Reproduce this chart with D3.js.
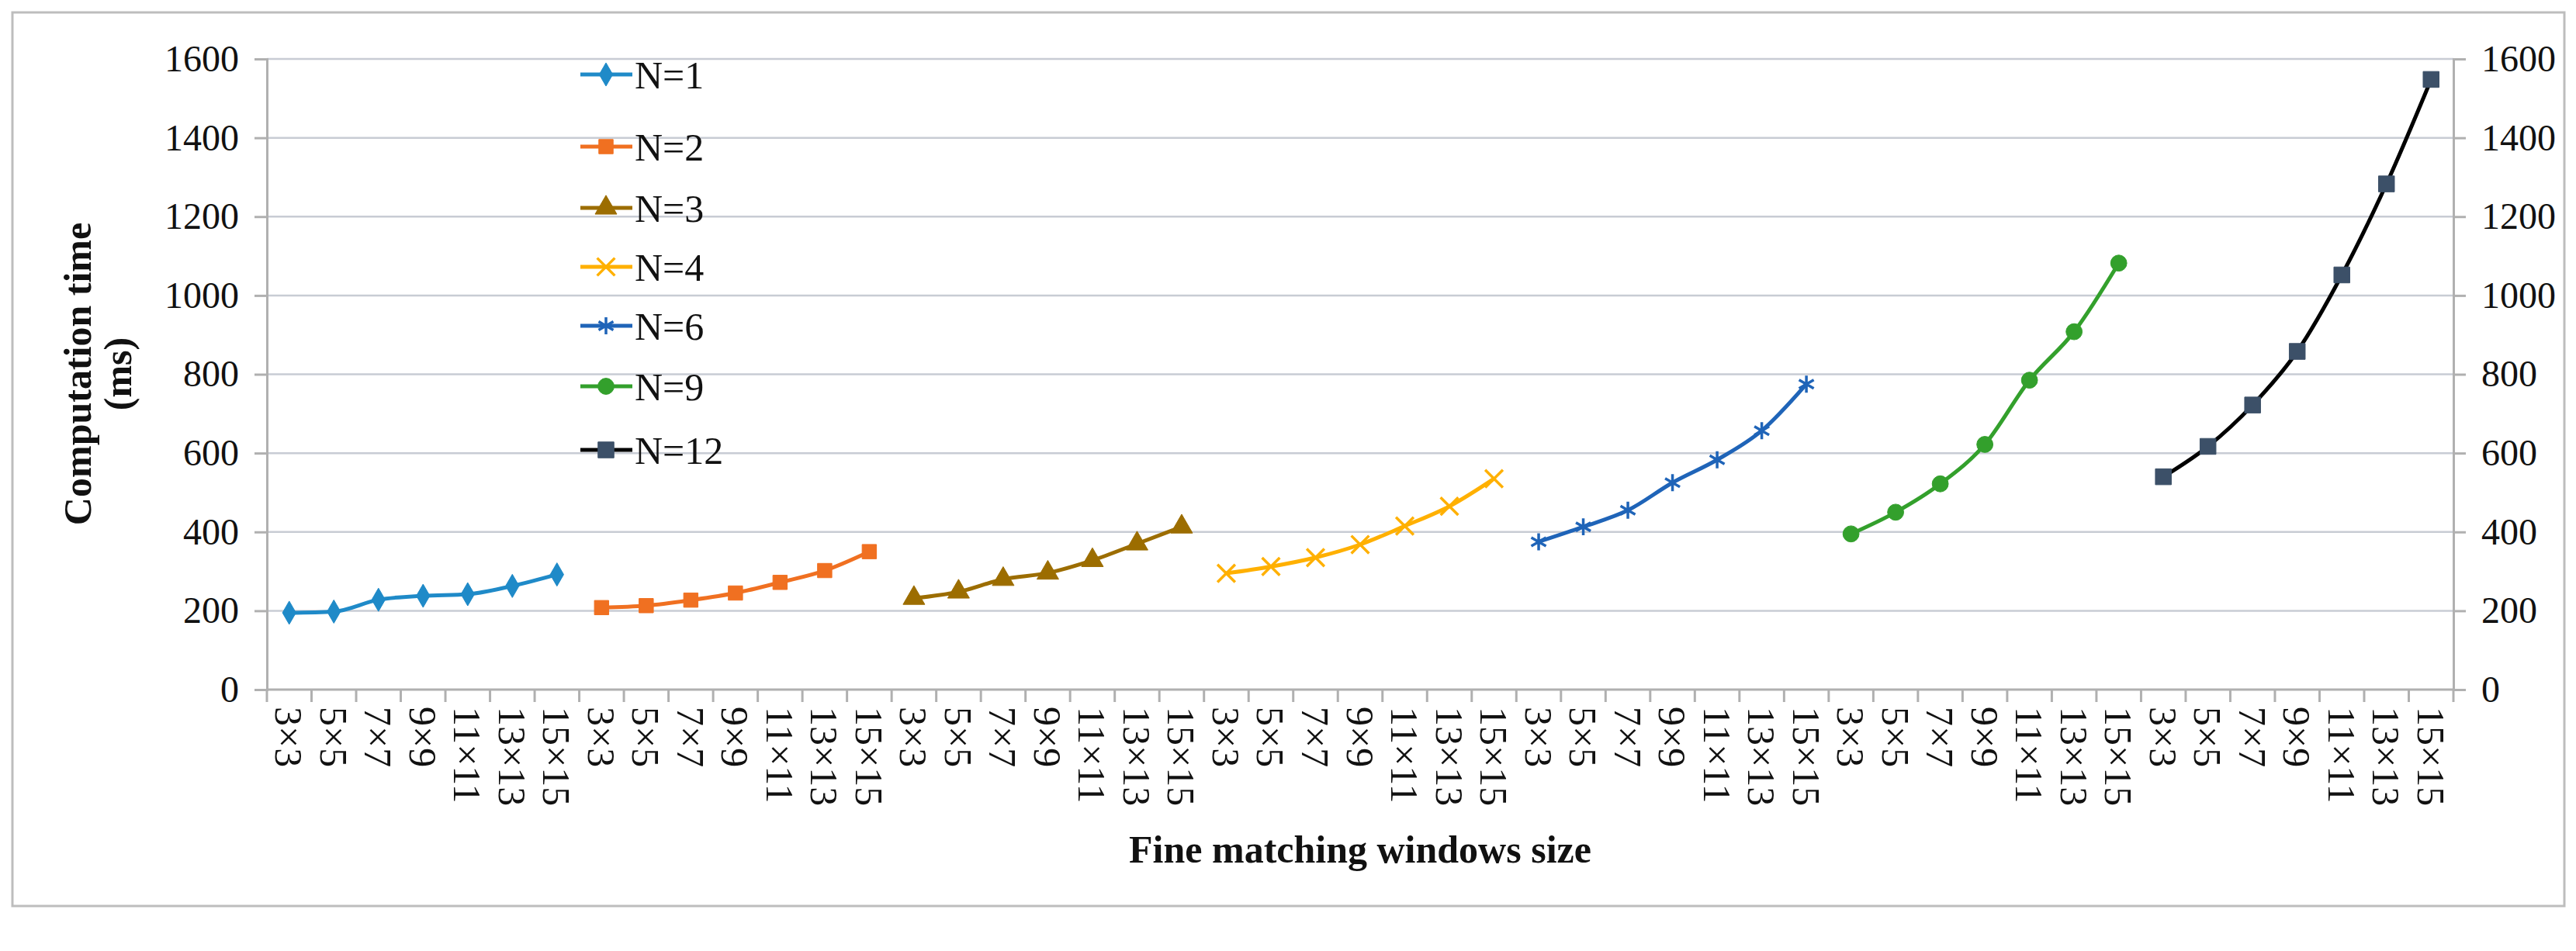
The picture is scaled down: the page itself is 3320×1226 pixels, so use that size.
<!DOCTYPE html>
<html><head><meta charset="utf-8">
<script src="https://cdn.jsdelivr.net/npm/d3@7/dist/d3.min.js"></script>
<style>body{margin:0;background:#fff}</style></head>
<body><svg id="c" width="3320" height="1226"></svg>
<script>
const windows=["3×3","5×5","7×7","9×9","11×11","13×13","15×15"];
const seriesNames=["N=1","N=2","N=3","N=4","N=6","N=9","N=12"];
const v1=[195,198,228,238,242,263,292];
const v2=[208,213,227,245,272,302,350];
const v3=[232,248,280,296,328,370,413];
const v4=[295,312,335,368,415,465,535];
const v6=[375,413,455,525,583,657,775];
const v9=[395,450,522,622,785,908,1082];
const v12=[540,617,722,858,1052,1283,1548];
const values=[v1,v2,v3,v4,v6,v9,v12];
const yTicks=[0,200,400,600,800,1000,1200,1400,1600];
const lineColors=["#1f8ac8","#f07021","#9c6d00","#ffb000","#1f64b8","#33a02c","#000000"];
const markColors=["#1f8ac8","#f07021","#9c6d00","#ffb000","#1f64b8","#33a02c","#3c5068"];
const markers=[d3.symbolDiamond,d3.symbolSquare,d3.symbolTriangle,d3.symbolX,d3.symbolAsterisk,d3.symbolCircle,d3.symbolSquare];

const svg=d3.select("#c");
const L=344,R=3162,T=76,B=889;
svg.append("rect").attr("x",16).attr("y",16).attr("width",3289).attr("height",1152).attr("fill","#fff").attr("stroke","#bdbdbd").attr("stroke-width",3);
const cats=[];seriesNames.forEach((s,i)=>windows.forEach((w,j)=>cats.push(i+"_"+j)));
const x=d3.scaleBand().domain(cats).range([L,R]);
const y=d3.scaleLinear().domain([0,1600]).range([B,T]);
const font="'Liberation Serif','Times New Roman',serif";
svg.append("g").selectAll("line").data(yTicks.slice(1)).join("line")
 .attr("x1",L).attr("x2",R).attr("y1",d=>y(d)).attr("y2",d=>y(d)).attr("stroke","#c8ccd4").attr("stroke-width",2.5);
const fmt=d3.format("d");
const gl=svg.append("g").attr("transform",`translate(${L},0)`).call(d3.axisLeft(y).tickValues(yTicks).tickFormat(fmt).tickSize(16).tickPadding(20));
const gr=svg.append("g").attr("transform",`translate(${R},0)`).call(d3.axisRight(y).tickValues(yTicks).tickFormat(fmt).tickSize(16).tickPadding(20));
[gl,gr].forEach(g=>{g.select(".domain").attr("stroke","#b0b0b0").attr("stroke-width",3);
 g.selectAll(".tick line").attr("stroke","#b0b0b0").attr("stroke-width",3);
 g.selectAll("text").attr("font-family",font).attr("font-size",48).attr("fill","#111");});
svg.append("line").attr("x1",L).attr("x2",R).attr("y1",B).attr("y2",B).attr("stroke","#b0b0b0").attr("stroke-width",3);
const bnds=cats.map(c=>x(c)).concat([R]);
svg.append("g").selectAll("line").data(bnds).join("line").attr("x1",d=>d).attr("x2",d=>d).attr("y1",B).attr("y2",B+16).attr("stroke","#b0b0b0").attr("stroke-width",3);
svg.append("g").selectAll("text").data(cats).join("text")
 .attr("transform",c=>`translate(${x(c)+x.bandwidth()/2},${B+22}) rotate(90)`)
 .attr("dy","0.35em").attr("font-family",font).attr("font-size",50).attr("fill","#111")
 .text(c=>windows[+c.split("_")[1]]);
const line=d3.line().curve(d3.curveMonotoneX);
const msize=i=>i===0?260:(i===6?420:340);
values.forEach((vals,i)=>{
 const pts=vals.map((v,j)=>[x(i+"_"+j)+x.bandwidth()/2,y(v)]);
 svg.append("path").attr("d",line(pts)).attr("fill","none").attr("stroke",lineColors[i]).attr("stroke-width",5);
 const isStroke=(i===3||i===4);
 svg.append("g").selectAll("path").data(pts).join("path")
  .attr("transform",p=>`translate(${p[0]},${p[1]})`)
  .attr("d",d3.symbol().type(markers[i]).size(msize(i)))
  .attr("fill",isStroke?"none":markColors[i]).attr("stroke",markColors[i]).attr("stroke-width",isStroke?3.5:1);
});
const ly=[96,189,268,344,420,498,580];
seriesNames.forEach((s,i)=>{
 const g=svg.append("g").attr("transform",`translate(0,${ly[i]})`);
 g.append("line").attr("x1",748).attr("x2",815).attr("stroke",lineColors[i]).attr("stroke-width",5);
 const isStroke=(i===3||i===4);
 g.append("path").attr("transform","translate(781,0)").attr("d",d3.symbol().type(markers[i]).size(msize(i)))
  .attr("fill",isStroke?"none":markColors[i]).attr("stroke",markColors[i]).attr("stroke-width",isStroke?3.5:1);
 g.append("text").attr("x",818).attr("dy","0.35em").attr("font-family",font).attr("font-size",50).attr("fill","#111").text(s);
});
const yt=svg.append("text").attr("transform","translate(117,482) rotate(-90)").attr("text-anchor","middle")
 .attr("font-family",font).attr("font-size",50).attr("font-weight","bold").attr("fill","#111");
yt.append("tspan").attr("x",0).attr("dy",0).text("Computation time");
yt.append("tspan").attr("x",0).attr("dy",52).text("(ms)");
svg.append("text").attr("x",(L+R)/2).attr("y",1112).attr("text-anchor","middle").attr("font-family",font).attr("font-size",50).attr("font-weight","bold").attr("fill","#111").text("Fine matching windows size");
</script></body></html>
